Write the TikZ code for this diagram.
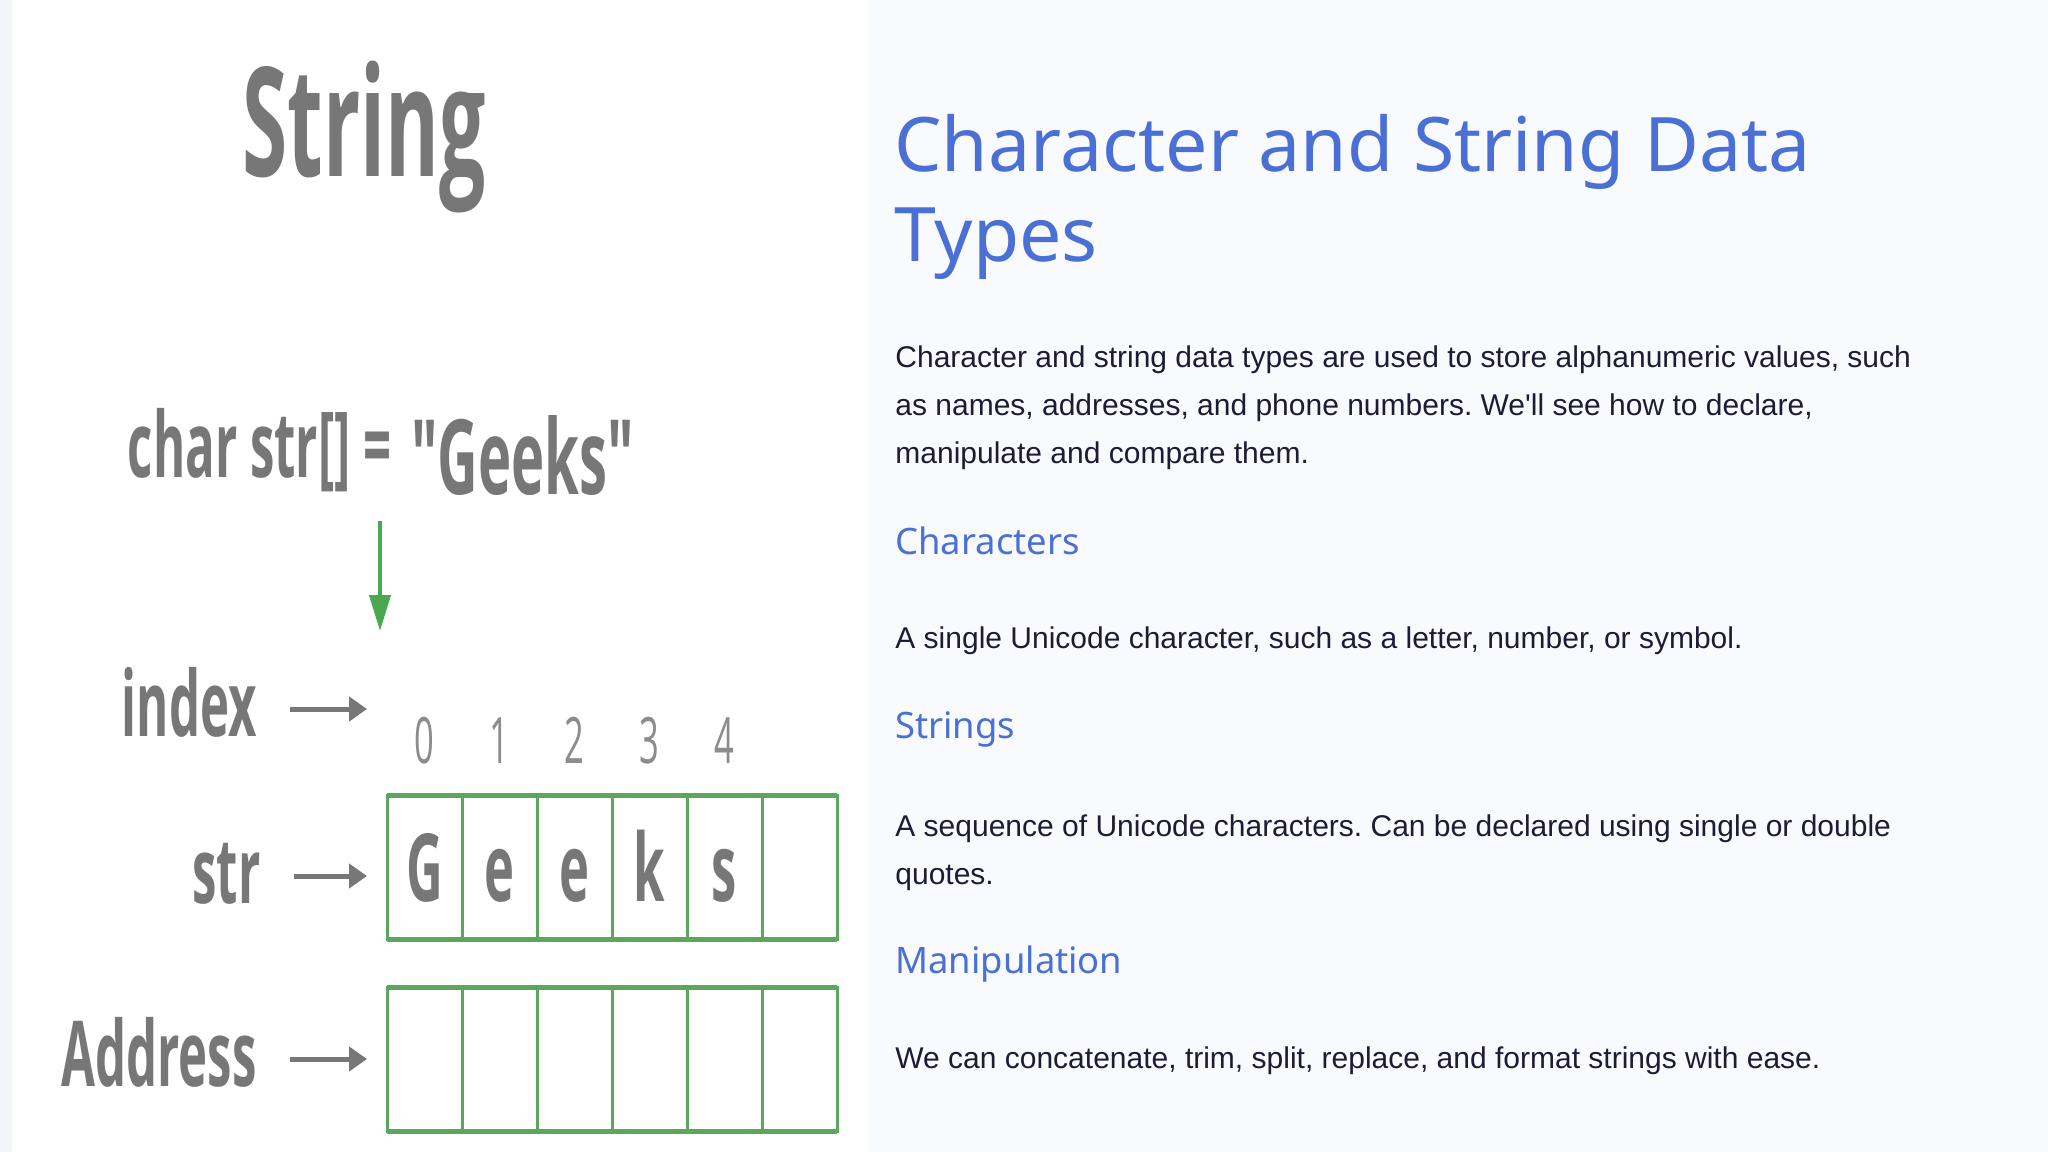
\documentclass[tikz,border=0pt]{standalone}
\usepackage{fontspec}
\usetikzlibrary{arrows.meta,positioning,calc}
\newfontfamily\imgfont{Open Sans}[FakeStretch=0.54]
\newfontfamily\headfont{Noto Sans}
\newfontfamily\bodyfont{Liberation Sans}
\frenchspacing
\definecolor{imggray}{HTML}{777777}
\definecolor{digitgray}{HTML}{8C8C8C}
\definecolor{cellgreen}{HTML}{5DA65D}
\definecolor{arrgreen}{HTML}{4CA850}
\definecolor{headblue}{HTML}{4A70D6}
\definecolor{bodyink}{HTML}{1C1D35}
\definecolor{panelbg}{HTML}{F8FAFD}
\definecolor{stripbg}{HTML}{F3F5F9}
\tikzstyle{rowlabel}=[anchor=east,inner sep=0pt,text=imggray,
font=\imgfont\bfseries\fontsize{45.5}{48}\selectfont,text height=27pt,text depth=0pt]
\tikzstyle{cell}=[rectangle,draw=cellgreen,line width=1.5pt,minimum width=37.5pt,
minimum height=72pt,inner sep=0pt,outer sep=0pt,text=imggray,
font=\imgfont\bfseries\fontsize{47}{50}\selectfont,text height=33.5pt,text depth=0pt]
\tikzstyle{digit}=[anchor=base,inner sep=0pt,text=digitgray,
font=\imgfont\fontsize{32}{34}\selectfont]
\tikzstyle{grayarrow}=[draw=imggray,line width=2.5pt,-{Triangle[length=9pt,width=12pt]},
shorten <=16.5pt,shorten >=10pt]
\tikzstyle{greenarrow}=[draw=arrgreen,line width=2pt,-{Triangle[length=18pt,width=10.5pt]}]
\tikzstyle{heading}=[anchor=base west,inner sep=0pt,text=headblue,align=left]
\tikzstyle{bodytext}=[anchor=base west,inner sep=0pt,text=bodyink,align=left,
font=\bodyfont\fontsize{15}{24}\selectfont]

\begin{document}
\begin{tikzpicture}[x=0.5pt,y=-0.5pt]
    % panels
    \useasboundingbox (0,0) rectangle (2048,1152);
    \fill[panelbg] (868,0) rectangle (2048,1152);
    \fill[white] (12,0) rectangle (868,1152);
    \fill[stripbg] (0,0) rectangle (12,1152);

    % left picture
    \node[anchor=base west,inner sep=0pt,text=imggray,
      font=\imgfont\bfseries\fontsize{76}{80}\selectfont] (strtitle) at (242,176) {String};
    \node[anchor=base east,inner sep=0pt,text=imggray,
      font=\imgfont\bfseries\fontsize{45.5}{48}\selectfont] (code) at (392,477) {char str[] =};
    \node[anchor=base west,inner sep=0pt,text=imggray,
      font=\imgfont\bfseries\fontsize{52}{54}\selectfont] (geeks) at (411,494) {"Geeks"};

    \node[rowlabel] (index) at (257,709) {index};
    \node[rowlabel] (str) at (261,876) {str};
    \node[rowlabel] (addr) at (257,1059) {Address};

    \foreach \c [count=\i] in {G,e,e,k,s,{}}
      \node[cell] (s\i) at (349.5+75*\i,867.5) {\c};
    \foreach \i in {1,...,6}
      \node[cell] (a\i) at (349.5+75*\i,1059.5) {};
    \foreach \d [count=\i] in {0,...,4}
      \node[digit] (d\i) at (349.5+75*\i,763) {\d};

    \draw[cellgreen,line width=2.5pt] (s1.north west) -- (s6.north east)
      (s1.south west) -- (s6.south east)
      (a1.north west) -- (a6.north east)
      (a1.south west) -- (a6.south east);

    \coordinate (tip) at (380,631);
    \draw[greenarrow,shorten <=14.5pt] (code.south -| tip) -- (tip);
    \foreach \l/\c in {index/s1,str/s1,addr/a1}
      \draw[grayarrow] (\l.east) -- (\l.east -| \c.west);

    % right text
    \node[heading,font=\headfont\fontsize{37.6}{45}\selectfont] (title) at (894,261)
      {Character and String Data\\Types};
    \node[bodytext] (intro) at (895,463)
      {Character and string data types are used to store alphanumeric values, such\\
       as names, addresses, and phone numbers. We'll see how to declare,\\
       manipulate and compare them.};
    \node[heading,font=\headfont\fontsize{18.2}{22}\selectfont] (chars) at (895,554) {Characters};
    \node[bodytext] (charstext) at (895,648)
      {A single Unicode character, such as a letter, number, or symbol.};
    \node[heading,font=\headfont\fontsize{18.2}{22}\selectfont] (strs) at (895,738) {Strings};
    \node[bodytext] (strstext) at (895,884)
      {A sequence of Unicode characters. Can be declared using single or double\\
       quotes.};
    \node[heading,font=\headfont\fontsize{18.2}{22}\selectfont] (manip) at (895,973) {Manipulation};
    \node[bodytext] (maniptext) at (895,1068)
      {We can concatenate, trim, split, replace, and format strings with ease.};
\end{tikzpicture}
\end{document}
